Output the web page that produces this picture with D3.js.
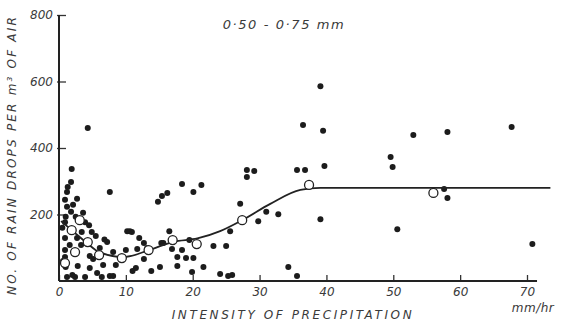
<!DOCTYPE html>
<html>
<head>
<meta charset="utf-8">
<script src="https://cdn.jsdelivr.net/npm/d3@7"></script>
<style>
  body { margin: 0; background: #fff; }
  text { font-family: "DejaVu Sans", sans-serif; font-style: italic; fill: #3a3a3a; }
</style>
</head>
<body>
<script>
// rain drop counts (0.50-0.75 mm) vs intensity
const dotX = [4.3, 39.1, 36.5, 39.5, 39.7, 28.1, 28.1, 29.2, 35.6, 36.8, 53, 58.1, 67.7, 49.6, 49.9, 50.6, 57.6, 58.1, 70.8,
  27.1, 31, 32.8, 29.8, 39.1, 25.6, 23.1, 25, 19.5, 19, 20.1, 21.6, 24.1, 25.3, 25.9, 19.9, 34.3, 35.6, 18.4, 20.1, 21.3, 16.2, 15.4, 14.8,
  10.9, 16.5, 12, 15.3, 15.6, 12.7, 11.7, 13.2, 10, 16.9, 18.4, 12.7, 17.7, 17.7, 11, 13.8, 15.1,
  1.9, 1.8, 1.3, 1.2, 7.6, 0.9, 2.7, 1.2, 2.1, 1.8, 3.6, 1, 2.5, 3.9, 4.5, 0.9, 4.9, 3.4, 7.2, 0.9, 2.7, 1.6, 3.3, 0.9, 4.6, 0.9,
  6.1, 8.1, 10.2, 10.6, 5.1, 6.6, 8.5, 2.8, 1.0, 4.6, 11.5, 5.7, 3.9, 1.2, 7.6, 8.1, 2.4, 6.4, 0.5, 0.6, 2.0, 5.5, 6.8];
const dotY = [460, 586, 469, 452, 346, 334, 313, 331, 334, 334, 439, 448, 463, 373, 343, 156, 277, 250, 111,
  232, 208, 201, 180, 186, 150, 105, 105, 123, 69, 69, 42, 21, 15, 18, 27, 42, 15, 292, 268, 289, 265, 256, 238,
  147, 150, 129, 114, 114, 114, 96, 99, 93, 96, 93, 66, 72, 45, 30, 30, 42,
  337, 298, 283, 268, 268, 244, 247, 223, 229, 208, 205, 193, 193, 177, 168, 177, 147, 147, 117, 129, 129, 108, 108, 93, 75, 72,
  99, 87, 150, 150, 66, 48, 48, 45, 42, 39, 39, 24, 12, 12, 15, 15, 12, 12, 160, 60, 18, 135, 125];

// mean values (open circles)
const meanX = [0.9, 1.9, 3.1, 2.4, 4.3, 6.0, 9.4, 13.4, 17.0, 20.6, 27.4, 37.4, 56];
const meanY = [54, 153, 183, 87, 117, 78, 69, 93, 123, 111, 183, 289, 265];

// smoothed curve
const curveX = [0.3, 1.9, 4.2, 6.0, 9.6, 13.5, 17.1, 20.7, 24.1, 27.4, 31.6, 36.1, 39.1, 45, 73.5];
const curveY = [180, 153, 114, 87, 72, 93, 118, 128, 150, 183, 232, 274, 280, 280, 280];

const xTicks = [0, 10, 20, 30, 40, 50, 60, 70];
const yTicks = [200, 400, 600, 800];

const W = 561, H = 322;
const svg = d3.select('body').append('svg').attr('width', W).attr('height', H);

const x = d3.scaleLinear().domain([0, 70]).range([59, 527]);
const y = d3.scaleLinear().domain([0, 800]).range([281, 15]);

// axes
const xAxis = svg.append('g').attr('transform', `translate(0,${y(0)})`)
  .call(d3.axisBottom(x).tickValues(xTicks).tickSize(-6).tickPadding(6).tickFormat(d3.format('d')));
xAxis.select('.domain').remove();
xAxis.append('line').attr('x1', x(0)).attr('x2', x(71.5)).attr('stroke', '#222').attr('stroke-width', 2);
xAxis.selectAll('.tick line').attr('stroke', '#333').attr('stroke-width', 1.3);
xAxis.selectAll('.tick text').attr('font-size', 12).attr('fill', '#3a3a3a');

const yAxis = svg.append('g').attr('transform', `translate(${x(0)},0)`)
  .call(d3.axisLeft(y).tickValues(yTicks).tickSize(-7).tickPadding(6));
yAxis.select('.domain').remove();
yAxis.append('line').attr('y1', y(0)).attr('y2', y(800)).attr('stroke', '#222').attr('stroke-width', 2);
yAxis.selectAll('.tick line').attr('stroke', '#333').attr('stroke-width', 1.3).attr('x1', -2);
yAxis.selectAll('.tick text').attr('font-size', 12).attr('fill', '#3a3a3a');

// dots
svg.append('g').selectAll('circle')
  .data(dotX.map((d, i) => [d, dotY[i]]))
  .join('circle')
  .attr('cx', d => x(d[0]))
  .attr('cy', d => y(d[1]))
  .attr('r', 3)
  .attr('fill', '#1c1c1c');

// curve
svg.append('path')
  .datum(curveX.map((d, i) => [d, curveY[i]]))
  .attr('fill', 'none')
  .attr('stroke', '#222')
  .attr('stroke-width', 1.8)
  .attr('d', d3.line().x(d => x(d[0])).y(d => y(d[1])).curve(d3.curveMonotoneX));

// open circles
svg.append('g').selectAll('circle')
  .data(meanX.map((d, i) => [d, meanY[i]]))
  .join('circle')
  .attr('cx', d => x(d[0]))
  .attr('cy', d => y(d[1]))
  .attr('r', 4.5)
  .attr('fill', '#fff')
  .attr('stroke', '#222')
  .attr('stroke-width', 1.3);

// labels
svg.append('text').attr('x', 284).attr('y', 29).attr('text-anchor', 'middle')
  .attr('font-size', 13).attr('letter-spacing', 1.6).text('0·50 - 0·75 mm');
svg.append('text').attr('x', 533).attr('y', 312).attr('text-anchor', 'middle')
  .attr('font-size', 12).attr('letter-spacing', 0.5).text('mm/hr');
svg.append('text').attr('x', 293).attr('y', 319).attr('text-anchor', 'middle')
  .attr('font-size', 12).attr('letter-spacing', 2.6).text('INTENSITY OF PRECIPITATION');
svg.append('text').attr('transform', 'translate(16,155) rotate(-90)').attr('text-anchor', 'middle')
  .attr('font-size', 12).attr('letter-spacing', 2.2).text('NO. OF RAIN DROPS PER m³ OF AIR');
</script>
</body>
</html>
